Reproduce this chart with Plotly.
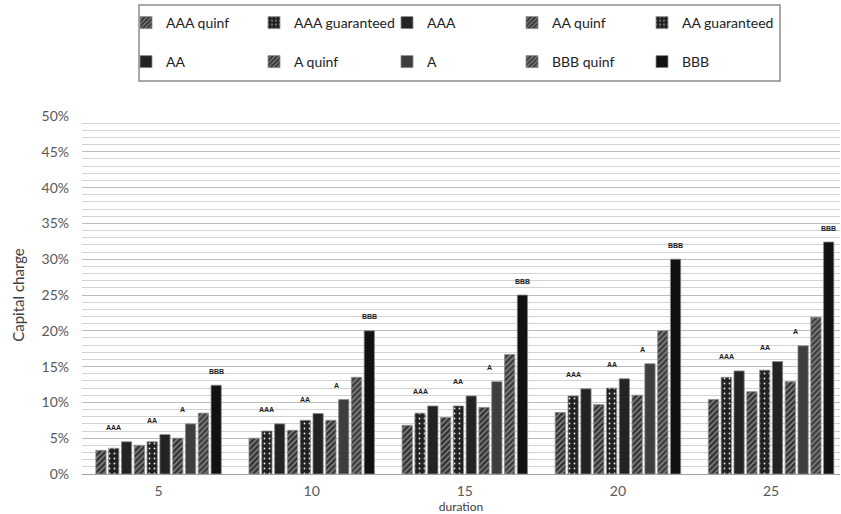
import plotly.graph_objects as go

durations = ["5", "10", "15", "20", "25"]

aaa_quinf = [3.3, 5.0, 6.8, 8.6, 10.4]
aaa_guar = [3.6, 6.0, 8.5, 10.9, 13.5]
aaa = [4.5, 7.0, 9.5, 11.9, 14.4]
aa_quinf = [4.0, 6.1, 7.9, 9.7, 11.5]
aa_guar = [4.5, 7.5, 9.5, 12.0, 14.5]
aa = [5.5, 8.45, 10.9, 13.3, 15.7]
a_quinf = [5.0, 7.5, 9.3, 11.0, 12.9]
a = [7.0, 10.4, 12.9, 15.4, 17.9]
bbb_quinf = [8.5, 13.5, 16.7, 20.0, 21.9]
bbb = [12.4, 20.0, 25.0, 30.0, 32.4]

series = [
    ("AAA quinf", aaa_quinf, "hatch"),
    ("AAA guaranteed", aaa_guar, "dots"),
    ("AAA", aaa, "solid"),
    ("AA quinf", aa_quinf, "hatch"),
    ("AA guaranteed", aa_guar, "dots"),
    ("AA", aa, "solid"),
    ("A quinf", a_quinf, "hatch"),
    ("A", a, "solidA"),
    ("BBB quinf", bbb_quinf, "hatchB"),
    ("BBB", bbb, "solidB"),
]

# legend layout (pixel centres of the legend swatches in the reference)
legend_cols = [146, 274, 407, 532, 662]
legend_rows = [23, 62]

FONT = "Lato"
fig = go.Figure()

legend_layouts = {}
for i, (name, vals, style) in enumerate(series):
    marker = dict(line=dict(color="#8a8a8a", width=0.8))
    if style.startswith("hatch"):
        bg = "#333333" if style == "hatch" else "#3d3d3d"
        marker.update(color=bg, pattern=dict(shape="/", fillmode="replace",
                                              bgcolor=bg, fgcolor="#8c8c8c",
                                              size=4, solidity=0.35))
    elif style == "dots":
        marker.update(color="#222222", pattern=dict(shape=".", fillmode="replace",
                                                     bgcolor="#222222", fgcolor="#e6e6e6",
                                                     size=5, solidity=0.1))
    elif style == "solid":
        marker.update(color="#232323")
    elif style == "solidA":
        marker.update(color="#3e3e3e")
    else:
        marker.update(color="#111111")
    lname = "legend" if i == 0 else f"legend{i + 1}"
    fig.add_trace(go.Bar(
        x=durations, y=[v / 100 for v in vals], name=name, marker=marker,
        legend=lname, showlegend=True,
    ))
    cx = legend_cols[i % 5]
    cy = legend_rows[i // 5]
    legend_layouts[lname] = dict(
        orientation="h", xref="container", yref="container",
        xanchor="left", yanchor="middle", bgcolor="rgba(0,0,0,0)",
        font=dict(family=FONT, size=14, color="#222222"),
        itemclick=False, itemdoubleclick=False, visible=True,
        x=(cx - 20) / 841, y=1 - cy / 514,
    )

# rating labels above bar groups
bargap = 0.164
slot = (1 - bargap) / 10
label_defs = [("AAA", [aaa_quinf, aaa_guar, aaa], 1),
              ("AA", [aa_quinf, aa_guar, aa], 4),
              ("A", [a_quinf, a], 6.4),
              ("BBB", [bbb], 9)]
annotations = []
for gi in range(len(durations)):
    for text, group, idx in label_defs:
        top = max(s[gi] for s in group) / 100
        annotations.append(dict(
            x=gi + (idx - 4.5) * slot, y=top, xref="x", yref="y",
            text=f"<b>{text}</b>", showarrow=False, yshift=14,
            font=dict(family="Arial", size=7, color="#1a1a1a"),
        ))

fig.update_layout(
    width=841, height=514,
    showlegend=True,
    margin=dict(l=82, r=1, t=116, b=40, autoexpand=False),
    plot_bgcolor="white", paper_bgcolor="white",
    barmode="group", bargap=bargap, bargroupgap=0.2,
    font=dict(family=FONT, color="#595959"),
    annotations=annotations,
    shapes=[dict(type="rect", xref="paper", yref="paper",
                 x0=(139 - 82) / 758, x1=(780 - 82) / 758,
                 y0=(474 - 81) / 358, y1=(474 - 5) / 358,
                 line=dict(color="#8c8c8c", width=1.5), fillcolor="rgba(0,0,0,0)",
                 layer="above")],
    xaxis=dict(type="category", range=[-0.5, 4.45], showgrid=False,
               showline=True, linecolor="#a0a0a0", linewidth=1,
               tickfont=dict(family=FONT, size=14, color="#595959"),
               ticklabelstandoff=4,
               title=dict(text="duration", standoff=1,
                          font=dict(family=FONT, size=12, color="#404040"))),
    yaxis=dict(range=[0, 0.5], dtick=0.05, tickformat=".0%",
               showgrid=True, gridcolor="#bdbdbd", gridwidth=1,
               minor=dict(dtick=0.01, showgrid=True, gridcolor="#d2d2d2", gridwidth=1),
               zeroline=False, showline=False,
               tickfont=dict(family=FONT, size=14, color="#595959"),
               ticklabelstandoff=12,
               title=dict(text="Capital charge", standoff=13,
                          font=dict(family=FONT, size=15, color="#404040"))),
    **legend_layouts,
)

fig.write_html("out.html")
